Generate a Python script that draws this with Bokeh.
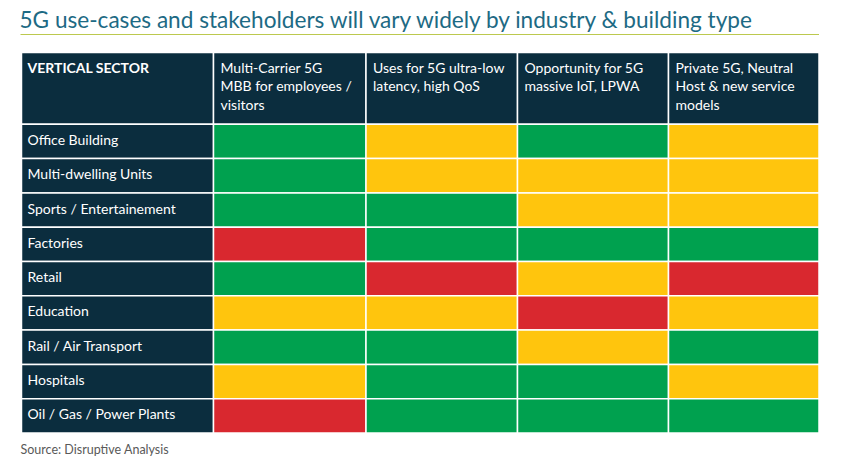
from bokeh.plotting import figure
from bokeh.models import Range1d
from bokeh.core.properties import value
from bokeh.embed import file_html
from bokeh.resources import INLINE

title = "5G use-cases and stakeholders will vary widely by industry & building type"
source_note = "Source: Disruptive Analysis"
corner_label = "VERTICAL SECTOR"
use_cases = [
    "Multi-Carrier 5G\nMBB for employees /\nvisitors",
    "Uses for 5G ultra-low\nlatency, high QoS",
    "Opportunity for 5G\nmassive IoT, LPWA",
    "Private 5G, Neutral\nHost & new service\nmodels",
]
sectors = [
    "Office Building",
    "Multi-dwelling Units",
    "Sports / Entertainement",
    "Factories",
    "Retail",
    "Education",
    "Rail / Air Transport",
    "Hospitals",
    "Oil / Gas / Power Plants",
]
# G = green, Y = amber, R = red
ratings = [
    ["G", "Y", "G", "Y"],
    ["G", "Y", "Y", "Y"],
    ["G", "G", "Y", "Y"],
    ["R", "G", "G", "G"],
    ["G", "R", "Y", "R"],
    ["Y", "Y", "R", "Y"],
    ["G", "G", "Y", "G"],
    ["Y", "G", "G", "Y"],
    ["R", "G", "G", "G"],
]

# ---- layout / style ----
PALETTE = {"G": "#00a14f", "Y": "#ffc50d", "R": "#d9282f"}
NAVY = "#0b2d3e"
FONT = "Lato"
col_edges = [21, 213, 365.5, 517, 668, 818.5]
header_top, header_bottom = 52, 123.8
row_h = 34.3

W, H = 833, 462
p = figure(width=W, height=H, output_backend="svg", toolbar_location=None,
           x_range=Range1d(0, W), y_range=Range1d(H, 0), min_border=0)
p.axis.visible = False
p.grid.visible = False
p.outline_line_color = None
p.background_fill_color = "white"

hl, hr, ht, hb, hc = [], [], [], [], []
for i in range(len(use_cases) + 1):
    hl.append(col_edges[i]); hr.append(col_edges[i + 1])
    ht.append(header_top); hb.append(header_bottom); hc.append(NAVY)
for r, sec in enumerate(sectors):
    top = header_bottom + r * row_h
    bot = top + row_h
    hl.append(col_edges[0]); hr.append(col_edges[1]); ht.append(top); hb.append(bot); hc.append(NAVY)
    for c, val in enumerate(ratings[r]):
        hl.append(col_edges[c + 1]); hr.append(col_edges[c + 2])
        ht.append(top); hb.append(bot); hc.append(PALETTE[val])

p.quad(left=hl, right=hr, top=ht, bottom=hb, fill_color=hc,
       line_color="white", line_width=1.5)

p.text(x=[col_edges[0] + 6], y=[header_top + 6], text=[corner_label],
       text_font=value(FONT), text_font_size="14px", text_font_style="bold",
       text_color="white", text_baseline="top", text_align="left")
p.text(x=[e + 7 for e in col_edges[1:5]], y=[header_top + 6] * 4, text=use_cases,
       text_font=value(FONT), text_font_size="14px", text_color="white",
       text_baseline="top", text_align="left", text_line_height=1.1)

p.text(x=[col_edges[0] + 6] * len(sectors),
       y=[header_bottom + r * row_h + row_h / 2 - 2 for r in range(len(sectors))],
       text=sectors, text_font=value(FONT), text_font_size="14px",
       text_color="white", text_baseline="middle", text_align="left")

p.text(x=[19], y=[19], text=[title], text_font=value(FONT), text_font_size="22.6px",
       text_color="#1d6a84", text_baseline="middle", text_align="left")
p.segment(x0=[20], x1=[col_edges[-1]], y0=[34], y1=[34], line_color="#bcc94e", line_width=1.2)

p.text(x=[20], y=[449], text=[source_note], text_font=value(FONT), text_font_size="12.5px",
       text_color="#595959", text_baseline="middle", text_align="left")

open("out.html", "w").write(file_html(p, INLINE))
